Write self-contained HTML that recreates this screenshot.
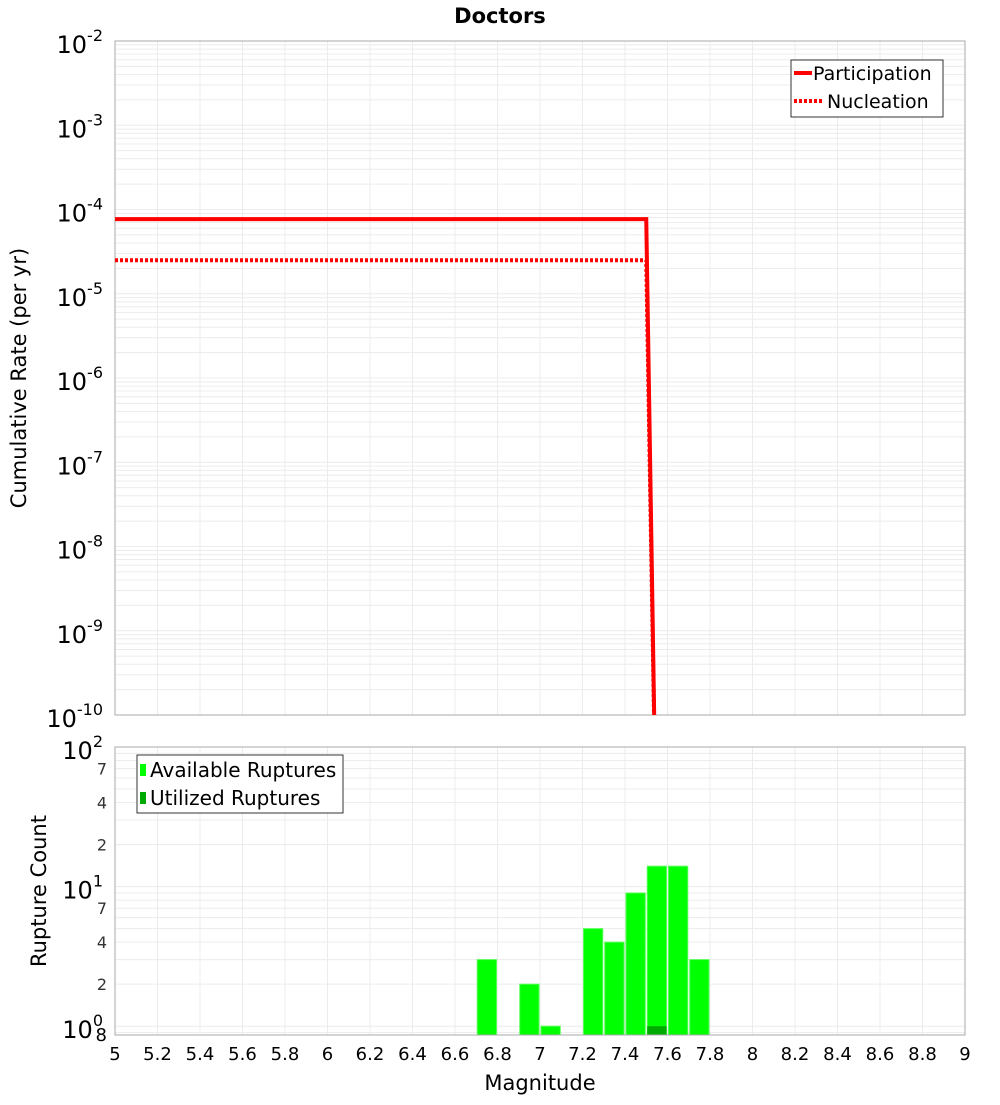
<!DOCTYPE html>
<html><head><meta charset="utf-8"><style>
body{margin:0;background:#fff;font-family:"Liberation Sans","DejaVu Sans",sans-serif}
svg text{font-family:"DejaVu Sans","Liberation Sans",sans-serif}
</style></head><body>
<svg id="c" width="1000" height="1100" xmlns="http://www.w3.org/2000/svg">
<defs><clipPath id="cp1"><rect x="115" y="41" width="850" height="674"/></clipPath></defs>
<text x="500" y="23" text-anchor="middle" font-size="21" font-weight="bold">Doctors</text>
<g id="gtop"></g>
<g id="gbot"></g>
<text transform="translate(26,378) rotate(-90)" text-anchor="middle" font-size="21">Cumulative Rate (per yr)</text>
<text transform="translate(46,891) rotate(-90)" text-anchor="middle" font-size="21">Rupture Count</text>
<text x="540" y="1090" text-anchor="middle" font-size="21">Magnitude</text>
<g>
<rect x="791" y="60" width="152" height="57" fill="#fff" stroke="#333"/>
<line x1="794" y1="73" x2="812" y2="73" stroke="red" stroke-width="4"/>
<text x="813" y="80" font-size="19">Participation</text>
<line x1="794" y1="101" x2="822" y2="101" stroke="red" stroke-width="4" stroke-dasharray="3,2"/>
<text x="827" y="108" font-size="19">Nucleation</text>
</g>
<g>
<rect x="137" y="755" width="206" height="58" fill="#fff" stroke="#333"/>
<rect x="140" y="764" width="6" height="12" fill="#00ff00"/>
<text x="150" y="777" font-size="20">Available Ruptures</text>
<rect x="140" y="792" width="6" height="12" fill="#00aa00"/>
<text x="150" y="805" font-size="20">Utilized Ruptures</text>
</g>
</svg>
<script>
const xTicks=[5,5.2,5.4,5.6,5.8,6,6.2,6.4,6.6,6.8,7,7.2,7.4,7.6,7.8,8,8.2,8.4,8.6,8.8,9];
const rateDecades=[-2,-3,-4,-5,-6,-7,-8,-9,-10];
const lineMags=[5.0,7.5,7.55];
const participation=[7.7e-5,7.7e-5,1e-12];
const nucleation=[2.5e-5,2.5e-5,1e-12];
const binMags=[6.75,6.95,7.05,7.25,7.35,7.45,7.55,7.65,7.75];
const available=[3,2,1,5,4,9,14,14,3];
const utilized=[0,0,0,0,0,0,1,0,0];
const countMinor=[2,4,7];

const NS="http://www.w3.org/2000/svg";
const L=115,R=965,T1=41,B1=715,T2=747,B2=1035;
const X=m=>L+(m-5)/4*(R-L);
const Y1=v=>T1+(-2-Math.log10(v))*(B1-T1)/8;
const Y2=v=>T2+(2-Math.log10(v))*139.6;
function el(p,t,a){const e=document.createElementNS(NS,t);for(const k in a)e.setAttribute(k,a[k]);p.appendChild(e);return e;}
const gTop=document.getElementById('gtop'),gBot=document.getElementById('gbot');
for(let d=-10;d<-2;d++)for(let k=1;k<10;k++){const y=Y1(k*Math.pow(10,d));if(y<T1||y>B1)continue;
 el(gTop,'line',{x1:L,x2:R,y1:y,y2:y,stroke:'#ececec','stroke-width':1});}
for(const t of xTicks){el(gTop,'line',{x1:X(t),x2:X(t),y1:T1,y2:B1,stroke:'#ececec'});el(gBot,'line',{x1:X(t),x2:X(t),y1:T2,y2:B2,stroke:'#ececec'});}
el(gTop,'rect',{x:L,y:T1,width:R-L,height:B1-T1,fill:'none',stroke:'#aaa'});
for(const d of rateDecades){const y=Y1(Math.pow(10,d));
 const t=el(gTop,'text',{x:L-12,y:y+12,'text-anchor':'end','font-size':24});
 
 
 t.innerHTML='10<tspan dy="-12" font-size="16">'+d+'</tspan>';}
function line(vals,dash,name){const p=el(gTop,'polyline',{points:lineMags.map((m,i)=>X(m)+','+Y1(vals[i])).join(' '),fill:'none',stroke:'red','stroke-width':4,'clip-path':'url(#cp1)'});
 if(dash)p.setAttribute('stroke-dasharray','3,2');
 
 }
line(nucleation,true,'nucleation-line');line(participation,false,'participation-line');
for(let d=-1;d<2;d++)for(let k=1;k<10;k++){const y=Y2(k*Math.pow(10,d));if(y<T2||y>B2)continue;
 el(gBot,'line',{x1:L,x2:R,y1:y,y2:y,stroke:'#ececec'});}
const bw=X(0.1)-X(0);
binMags.forEach((m,i)=>{const r=el(gBot,'rect',{x:X(m)-bw/2+1,y:Y2(available[i]),width:bw-2,height:B2-Y2(available[i]),fill:'#00ff00',stroke:'#5f5','stroke-width':1});
 
 
 if(utilized[i]>0){const u=el(gBot,'rect',{x:X(m)-bw/2+1,y:Y2(utilized[i]),width:bw-2,height:B2-Y2(utilized[i]),fill:'#00aa00'});
 
 }});
el(gBot,'rect',{x:L,y:T2,width:R-L,height:B2-T2,fill:'none',stroke:'#aaa'});
[2,1,0].forEach(d=>{const y=Y2(Math.pow(10,d));const t=el(gBot,'text',{x:L-12,y:y+12,'text-anchor':'end','font-size':24});
 
 
 t.innerHTML='10<tspan dy="-12" font-size="16">'+d+'</tspan>';});
[0,1].forEach(d=>countMinor.forEach(k=>{const y=Y2(k*Math.pow(10,d));const t=el(gBot,'text',{x:L-8,y:y+6,'text-anchor':'end','font-size':16,fill:'#333'});t.textContent=k;
 
 }));
{const t=el(gBot,'text',{x:L-8,y:1041,'text-anchor':'end','font-size':18});t.textContent='8';
 
 }
for(const t of xTicks){const e=el(gBot,'text',{x:X(t),y:1060,'text-anchor':'middle','font-size':18});e.textContent=String(t);
 
 }
</script>
</body></html>
